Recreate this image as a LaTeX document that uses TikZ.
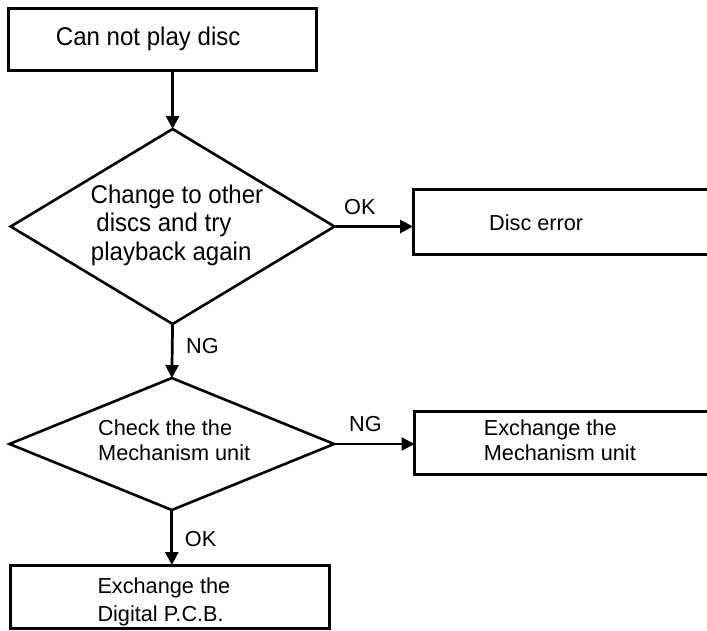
\documentclass[tikz,border=0pt]{standalone}
\usepackage{fontspec}
\setmainfont{Liberation Sans}
\newfontfamily\bigfont[FakeStretch=0.94]{Liberation Sans}
\usetikzlibrary{shapes.geometric,arrows.meta}
\tikzset{
  boxnode/.style={draw, rectangle, line width=3pt, inner sep=0pt, outer sep=0pt},
  decision/.style={draw, diamond, line width=2.6pt, inner sep=0pt, outer sep=0pt},
  bigtext/.style={anchor=base west, inner sep=0pt, font=\bigfont\fontsize{25.6}{30}\selectfont},
  smalltext/.style={anchor=base west, inner sep=0pt, font=\fontsize{21.7}{26}\selectfont},
  flow/.style={line width=2.7pt, -{Triangle[length=13pt,width=13pt]}}
}
\begin{document}
\begin{tikzpicture}[x=1pt,y=-1pt]
\useasboundingbox (0,0) rectangle (707,630);
\clip (0,0) rectangle (707,630);
% boxes
\node[boxnode, minimum width=308.4pt, minimum height=62.2pt] (b1) at (162.5,39.4) {};
\node[boxnode, minimum width=307pt, minimum height=65pt] (b2) at (566.5,221.5) {};
\node[boxnode, minimum width=305.5pt, minimum height=63.5pt] (b3) at (567.25,442.75) {};
\node[boxnode, minimum width=319.5pt, minimum height=63pt] (b4) at (169.75,596.5) {};
% decisions
\node[decision, minimum width=323.7pt, minimum height=195pt] (d1) at (172.6,226.5) {};
\node[decision, minimum width=324.5pt, minimum height=132pt] (d2) at (171.8,444) {};
% texts
\node[bigtext] (t1) at (55.7,45.5) {Can not play disc};
\node[bigtext] (t2a) at (90.5,203.3) {Change to other};
\node[bigtext] (t2b) at (89.5,231.7) {\ discs and try};
\node[bigtext] (t2c) at (90.7,260) {playback again};
\node[smalltext] (t3) at (489,230) {Disc error};
\node[smalltext] (t4a) at (98,435) {Check the the};
\node[smalltext] (t4b) at (98,460.5) {Mechanism unit};
\node[smalltext] (t5a) at (483.7,435) {Exchange the};
\node[smalltext] (t5b) at (483.7,460.7) {Mechanism unit};
\node[smalltext] (t6a) at (97.3,593) {Exchange the};
\node[smalltext] (t6b) at (97.3,621.7) {Digital P.C.B.};
% labels
\node[smalltext] (l1) at (344,214) {OK};
\node[smalltext] (l2) at (186,353.3) {NG};
\node[smalltext] (l3) at (349,431.7) {NG};
\node[smalltext] (l4) at (184.7,546) {OK};
% connectors
\draw[flow] (d1.north |- b1.south) -- (d1.north);
\draw[flow] (d1.east) -- (d1.east -| b2.west);
\draw[flow] (d1.south) -- (d2.north);
\draw[flow] (d2.east) -- (d2.east -| b3.west);
\draw[flow] (d2.south) -- (d2.south |- b4.north);
\end{tikzpicture}
\end{document}
